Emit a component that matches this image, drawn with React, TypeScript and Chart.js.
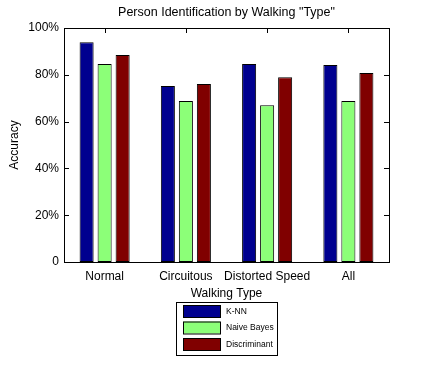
import React, { useEffect, useRef } from "react";
import { Chart, registerables } from "chart.js";

Chart.register(...registerables);

const categories = ["Normal", "Circuitous", "Distorted Speed", "All"];
const seriesNames = ["K-NN", "Naive Bayes", "Discriminant"];
const knnValues = [93.9, 75.2, 84.6, 84.2];
const naiveBayesValues = [84.6, 68.8, 67.0, 68.8];
const discriminantValues = [88.5, 76.1, 78.9, 80.8];
const seriesColors = ["#00008F", "#8CFF78", "#800000"];
const yTickLabels = ["0", "20%", "40%", "60%", "80%", "100%"];
const chartTitle = 'Person Identification by Walking "Type"';
const xTitle = "Walking Type";
const yTitle = "Accuracy";

const FONT = "'Liberation Sans', Arial, sans-serif";

const decorPlugin = {
  id: "decor",
  beforeDatasetsDraw(chart: any) {
    const { ctx, chartArea } = chart;
    const { left, right, top, bottom } = chartArea;
    const xs = chart.scales.x;
    const ys = chart.scales.y;
    const tl = 5;
    ctx.save();
    ctx.strokeStyle = "#000";
    ctx.lineWidth = 1;
    ctx.beginPath();
    xs.ticks.forEach((_: any, i: number) => {
      const x = Math.round(xs.getPixelForTick(i)) + 0.5;
      ctx.moveTo(x, top);
      ctx.lineTo(x, top + tl);
      ctx.moveTo(x, bottom);
      ctx.lineTo(x, bottom - tl);
    });
    ys.ticks.forEach((_: any, i: number) => {
      const y = Math.round(ys.getPixelForTick(i)) + 0.5;
      ctx.moveTo(left, y);
      ctx.lineTo(left + tl, y);
      ctx.moveTo(right, y);
      ctx.lineTo(right - tl, y);
    });
    ctx.stroke();
    ctx.restore();
  },
  afterDatasetsDraw(chart: any) {
    const { ctx, chartArea } = chart;
    const { left, right, top, bottom } = chartArea;
    ctx.save();
    ctx.strokeStyle = "#000";
    ctx.lineWidth = 1;
    ctx.strokeRect(Math.round(left) + 0.5, Math.round(top) + 0.5, Math.round(right - left), Math.round(bottom - top));

    // title
    ctx.fillStyle = "#000";
    ctx.font = `12.5px ${FONT}`;
    ctx.textAlign = "center";
    ctx.textBaseline = "middle";
    ctx.fillText(chartTitle, (left + right) / 2, 13);

    // legend
    const bx = 176.5, by = 302.5, bw = 101, bh = 53;
    ctx.strokeRect(bx, by, bw, bh);
    ctx.font = `8.5px ${FONT}`;
    ctx.textAlign = "left";
    const rowsY = [305, 321.5, 338];
    chart.data.datasets.forEach((ds: any, i: number) => {
      const sy = rowsY[i];
      ctx.fillStyle = ds.backgroundColor;
      ctx.fillRect(183, sy, 37, 12);
      ctx.strokeStyle = "#000";
      ctx.strokeRect(183.5, sy + 0.5, 37, 12);
      ctx.fillStyle = "#000";
      ctx.fillText(ds.label, 226, sy + 6.5);
    });
    ctx.restore();
  },
};

export default function App() {
  const ref = useRef<HTMLCanvasElement>(null);
  useEffect(() => {
    if (!ref.current) return;
    const data = [knnValues, naiveBayesValues, discriminantValues];
    const chart = new Chart(ref.current, {
      type: "bar",
      data: {
        labels: categories,
        datasets: seriesNames.map((name, i) => ({
          label: name,
          data: data[i],
          backgroundColor: seriesColors[i],
          borderColor: "#000",
          borderWidth: 1,
          borderSkipped: false,
          categoryPercentage: 0.665,
          barPercentage: 0.78,
        })),
      },
      options: {
        responsive: false,
        animation: false,
        devicePixelRatio: 1,
        layout: { padding: { left: 0, right: 41, top: 28, bottom: 0 } },
        plugins: {
          legend: { display: false },
          title: { display: false },
          tooltip: { enabled: false },
        },
        scales: {
          x: {
            grid: { display: false, drawTicks: false },
            border: { display: false },
            ticks: {
              color: "#000",
              font: { family: FONT, size: 12 },
              padding: 7,
              maxRotation: 0,
              autoSkip: false,
            },
            title: {
              display: true,
              text: xTitle,
              color: "#000",
              font: { family: FONT, size: 12 },
              padding: { top: 0, bottom: 70.8 },
            },
            afterFit(scale: any) {
              scale.height = 110;
            },
          },
          y: {
            min: 0,
            max: 100,
            grid: { display: false, drawTicks: false },
            border: { display: false },
            ticks: {
              stepSize: 20,
              color: "#000",
              font: { family: FONT, size: 12 },
              padding: 5,
              callback: (_v: any, i: number) => yTickLabels[i],
            },
            title: {
              display: true,
              text: yTitle,
              color: "#000",
              font: { family: FONT, size: 12 },
              padding: { top: 7.3, bottom: 0 },
            },
            afterFit(scale: any) {
              scale.width = 64;
            },
          },
        },
      },
      plugins: [decorPlugin],
    });
    return () => chart.destroy();
  }, []);
  return (
    <div style={{ position: "fixed", left: 0, top: 0, width: 430, height: 372, background: "#fff" }}>
      <canvas ref={ref} width={430} height={372} />
    </div>
  );
}
